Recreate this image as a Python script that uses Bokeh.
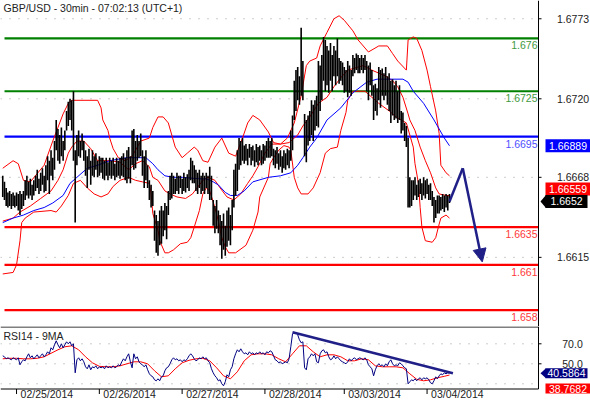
from bokeh.plotting import figure
from bokeh.layouts import column
from bokeh.models import Range1d, Label, Span, Arrow, NormalHead
from bokeh.embed import file_html
from bokeh.resources import INLINE

FONT = "Liberation Sans"
FS = "10.5px"

# ---------------- data ----------------
title_text = "GBP/USD - 30min - 07:02:13 (UTC+1)"
rsi_title = "RSI14 - 9MA"
price_ticks = [1.6615, 1.6668, 1.6720, 1.6773]
rsi_ticks = [50, 70]
rsi_grid = [30, 50, 70]
date_ticks = [0, 48, 96, 144, 190, 238]
date_labels = ["02/25/2014", "02/26/2014", "02/27/2014", "02/28/2014", "03/03/2014", "03/04/2014"]

levels = [1.676, 1.6725, 1.6695, 1.6635, 1.661, 1.658]
level_text = ["1.676", "1.6725", "1.6695", "1.6635", "1.661", "1.658"]
level_colors = ["#008000", "#008000", "#0000ff", "#ff0000", "#ff0000", "#ff0000"]
level_text_colors = ["#3f9a3f", "#3f9a3f", "#5050ff", "#ff3a3a", "#ff3a3a", "#ff3a3a"]

bar_index = list(range(-8, 252))
highs = [
    1.6669, 1.6665, 1.6661, 1.6658, 1.6659, 1.6657, 1.6658, 1.6656,
    1.6658, 1.6657, 1.6659, 1.6657, 1.6659, 1.6666, 1.6669, 1.6665, 1.6667, 1.6663,
    1.6666, 1.6669, 1.6673, 1.6667, 1.6671, 1.6674, 1.6669, 1.6676, 1.6682, 1.6679,
    1.6686, 1.6681, 1.6692, 1.6706, 1.6700, 1.6696, 1.6701, 1.6692, 1.6699, 1.6712,
    1.6718, 1.6720, 1.6719, 1.6725, 1.6686, 1.6696, 1.6699, 1.6692, 1.6697, 1.6692,
    1.6686, 1.6682, 1.6687, 1.6679, 1.6686, 1.6682, 1.6684, 1.6679, 1.6682, 1.6681,
    1.6681, 1.6679, 1.6681, 1.6678, 1.6681, 1.6679, 1.6681, 1.6677, 1.6681, 1.6679,
    1.6681, 1.6682, 1.6684, 1.6681, 1.6686, 1.6688, 1.6682, 1.6699, 1.6700, 1.6692,
    1.6696, 1.6692, 1.6697, 1.6686, 1.6682, 1.6686, 1.6676, 1.6666, 1.6663, 1.6659,
    1.6646, 1.6643, 1.6639, 1.6646, 1.6649, 1.6646, 1.6651, 1.6649, 1.6659, 1.6669,
    1.6671, 1.6669, 1.6667, 1.6671, 1.6669, 1.6669, 1.6667, 1.6671, 1.6668, 1.6670,
    1.6673, 1.6681, 1.6679, 1.6676, 1.6673, 1.6671, 1.6673, 1.6669, 1.6671, 1.6669,
    1.6671, 1.6669, 1.6675, 1.6669, 1.6653, 1.6649, 1.6653, 1.6646, 1.6643, 1.6639,
    1.6644, 1.6636, 1.6646, 1.6648, 1.6643, 1.6653, 1.6673, 1.6677, 1.6686, 1.6694,
    1.6692, 1.6694, 1.6689, 1.6690, 1.6687, 1.6690, 1.6688, 1.6689, 1.6686, 1.6690,
    1.6688, 1.6689, 1.6686, 1.6690, 1.6689, 1.6692, 1.6694, 1.6692, 1.6694, 1.6687,
    1.6686, 1.6688, 1.6684, 1.6686, 1.6682, 1.6686, 1.6684, 1.6687, 1.6686, 1.6699,
    1.6709, 1.6732, 1.6739, 1.6741, 1.6735, 1.6767, 1.6745, 1.6710, 1.6706, 1.6709,
    1.6712, 1.6719, 1.6716, 1.6719, 1.6722, 1.6745, 1.6742, 1.6749, 1.6761, 1.6759,
    1.6755, 1.6752, 1.6757, 1.6749, 1.6755, 1.6752, 1.6760, 1.6747, 1.6745, 1.6744,
    1.6741, 1.6739, 1.6745, 1.6742, 1.6739, 1.6749, 1.6747, 1.6750, 1.6749, 1.6747,
    1.6749, 1.6747, 1.6749, 1.6745, 1.6742, 1.6744, 1.6739, 1.6729, 1.6730, 1.6727,
    1.6741, 1.6739, 1.6740, 1.6737, 1.6741, 1.6735, 1.6737, 1.6732, 1.6733, 1.6729,
    1.6732, 1.6725, 1.6729, 1.6712, 1.6711, 1.6704, 1.6702, 1.6694, 1.6668, 1.6666,
    1.6666, 1.6668, 1.6663, 1.6666, 1.6667, 1.6664, 1.6668, 1.6666, 1.6667, 1.6663,
    1.6664, 1.6659, 1.6655, 1.6653, 1.6656, 1.6656, 1.6655, 1.6657, 1.6656, 1.6657,
    1.6656, 1.6657,
]
lows = [
    1.6655, 1.6653, 1.6649, 1.6648, 1.6649, 1.6647, 1.6649, 1.6648,
    1.6649, 1.6646, 1.6643, 1.6647, 1.6649, 1.6653, 1.6656, 1.6654, 1.6656, 1.6653,
    1.6656, 1.6659, 1.6661, 1.6657, 1.6659, 1.6663, 1.6658, 1.6659, 1.6666, 1.6657,
    1.6669, 1.6666, 1.6673, 1.6686, 1.6679, 1.6677, 1.6682, 1.6679, 1.6686, 1.6699,
    1.6702, 1.6706, 1.6699, 1.6679, 1.6638, 1.6676, 1.6682, 1.6681, 1.6686, 1.6679,
    1.6669, 1.6661, 1.6673, 1.6663, 1.6669, 1.6668, 1.6673, 1.6668, 1.6669, 1.6671,
    1.6667, 1.6666, 1.6669, 1.6666, 1.6669, 1.6667, 1.6669, 1.6666, 1.6668, 1.6669,
    1.6667, 1.6669, 1.6668, 1.6666, 1.6664, 1.6667, 1.6664, 1.6676, 1.6673, 1.6674,
    1.6679, 1.6681, 1.6682, 1.6669, 1.6661, 1.6666, 1.6661, 1.6653, 1.6648, 1.6649,
    1.6626, 1.6618, 1.6616, 1.6623, 1.6624, 1.6629, 1.6633, 1.6627, 1.6643, 1.6653,
    1.6654, 1.6657, 1.6657, 1.6659, 1.6657, 1.6661, 1.6657, 1.6659, 1.6658, 1.6661,
    1.6659, 1.6666, 1.6664, 1.6664, 1.6659, 1.6657, 1.6661, 1.6657, 1.6659, 1.6657,
    1.6661, 1.6657, 1.6653, 1.6653, 1.6636, 1.6631, 1.6634, 1.6631, 1.6623, 1.6614,
    1.6620, 1.6616, 1.6622, 1.6626, 1.6623, 1.6633, 1.6648, 1.6656, 1.6659, 1.6673,
    1.6676, 1.6679, 1.6677, 1.6679, 1.6676, 1.6681, 1.6676, 1.6679, 1.6675, 1.6678,
    1.6676, 1.6679, 1.6676, 1.6677, 1.6679, 1.6681, 1.6681, 1.6681, 1.6682, 1.6676,
    1.6674, 1.6677, 1.6673, 1.6675, 1.6671, 1.6674, 1.6673, 1.6676, 1.6674, 1.6679,
    1.6686, 1.6706, 1.6712, 1.6719, 1.6716, 1.6722, 1.6719, 1.6682, 1.6678, 1.6689,
    1.6692, 1.6696, 1.6692, 1.6699, 1.6702, 1.6701, 1.6712, 1.6719, 1.6732, 1.6725,
    1.6729, 1.6724, 1.6732, 1.6725, 1.6735, 1.6729, 1.6735, 1.6730, 1.6732, 1.6729,
    1.6724, 1.6725, 1.6721, 1.6724, 1.6722, 1.6735, 1.6737, 1.6739, 1.6737, 1.6737,
    1.6739, 1.6737, 1.6739, 1.6725, 1.6719, 1.6729, 1.6722, 1.6706, 1.6712, 1.6709,
    1.6719, 1.6714, 1.6722, 1.6719, 1.6722, 1.6716, 1.6712, 1.6704, 1.6709, 1.6706,
    1.6707, 1.6704, 1.6706, 1.6697, 1.6699, 1.6692, 1.6688, 1.6648, 1.6648, 1.6649,
    1.6653, 1.6656, 1.6653, 1.6655, 1.6657, 1.6653, 1.6656, 1.6654, 1.6657, 1.6653,
    1.6653, 1.6649, 1.6638, 1.6641, 1.6644, 1.6644, 1.6646, 1.6647, 1.6645, 1.6648,
    1.6646, 1.6651,
]

upper_idx = [-8, -2, 1, 4, 8, 16, 21, 24, 27, 30, 32, 47, 49, 50, 53, 54, 56, 59, 63, 67,
             72, 77, 79, 82, 85, 88, 92, 96, 99, 103, 105, 108, 111, 115, 119, 123, 127, 131,
             134, 137, 141, 146, 149, 153, 157, 161, 165, 168, 170, 174, 176, 180, 184, 187,
             190, 195, 198, 204, 210, 215, 218, 221, 226, 227, 230, 232, 235, 238, 240, 243,
             245, 246, 249, 251]
upper_val = [1.6674, 1.6679, 1.6677, 1.6666, 1.6665, 1.6676, 1.6692, 1.6701, 1.6710, 1.6717,
             1.6719, 1.6719, 1.6714, 1.6706, 1.6699, 1.6694, 1.6687, 1.6681, 1.6679, 1.6682,
             1.6692, 1.6694, 1.6701, 1.6708, 1.6708, 1.6704, 1.6688, 1.6681, 1.6684, 1.6688,
             1.6686, 1.6679, 1.6678, 1.6688, 1.6694, 1.6684, 1.6682, 1.6694, 1.6704, 1.6709,
             1.6706, 1.6698, 1.6691, 1.6690, 1.6694, 1.6704, 1.6722, 1.6742, 1.6745, 1.6747,
             1.6755, 1.6764, 1.6773, 1.6775, 1.6772, 1.6765, 1.6759, 1.6751, 1.6755, 1.6755,
             1.6750, 1.6745, 1.6739, 1.6759, 1.6761, 1.6760, 1.6752, 1.6739, 1.6728, 1.6712,
             1.6697, 1.6676, 1.6671, 1.6669]

mid_idx = [-8, -2, 2, 8, 14, 20, 24, 27, 30, 32, 35, 39, 43, 47, 54, 60, 65, 69, 73, 77,
           79, 82, 86, 89, 93, 98, 102, 106, 108, 111, 115, 118, 122, 126, 130, 134, 137,
           140, 144, 148, 153, 158, 161, 163, 166, 170, 175, 180, 184, 188, 192, 195, 201,
           206, 210, 214, 218, 221, 224, 227, 228, 231, 234, 237, 240, 243, 245, 249, 251]
mid_val = [1.6639, 1.6641, 1.6645, 1.6649, 1.6654, 1.6659, 1.6666, 1.6673, 1.6684, 1.6688,
           1.6692, 1.6692, 1.6687, 1.6679, 1.6679, 1.6678, 1.6673, 1.6677, 1.6679, 1.6675,
           1.6668, 1.6666, 1.6659, 1.6657, 1.6655, 1.6654, 1.6657, 1.6663, 1.6666, 1.6668,
           1.6666, 1.6661, 1.6655, 1.6653, 1.6657, 1.6664, 1.6669, 1.6675, 1.6684, 1.6690,
           1.6690, 1.6691, 1.6694, 1.6696, 1.6702, 1.6708, 1.6717, 1.6721, 1.6728, 1.6734,
           1.6739, 1.6740, 1.6742, 1.6739, 1.6737, 1.6735, 1.6732, 1.6728, 1.6721, 1.6710,
           1.6706, 1.6699, 1.6688, 1.6679, 1.6671, 1.6661, 1.6657, 1.6656, 1.66559]

lower_idx = [-8, -2, 0, 2, 3, 5, 10, 20, 23, 26, 30, 33, 37, 41, 45, 49, 53, 56, 60, 65,
             69, 73, 77, 78, 79, 82, 83, 86, 88, 91, 95, 99, 101, 103, 106, 108, 110, 112,
             115, 117, 119, 121, 123, 127, 133, 137, 140, 141, 146, 147, 149, 152, 155, 158,
             159, 161, 163, 165, 169, 172, 176, 179, 182, 186, 188, 191, 192, 195, 202, 206,
             210, 216, 220, 223, 226, 230, 231, 233, 234, 235, 237, 241, 243, 245, 246, 249, 251]
lower_val = [1.6604, 1.6605, 1.6610, 1.6626, 1.6638, 1.6641, 1.6645, 1.6646, 1.6645, 1.6649,
             1.6656, 1.6664, 1.6666, 1.6661, 1.6657, 1.6655, 1.6657, 1.6662, 1.6666, 1.6668,
             1.6666, 1.6665, 1.6664, 1.6657, 1.6644, 1.6633, 1.6626, 1.6618, 1.6618, 1.6620,
             1.6624, 1.6625, 1.6628, 1.6635, 1.6646, 1.6657, 1.6661, 1.6659, 1.6648, 1.6639,
             1.6628, 1.6622, 1.6618, 1.6618, 1.6623, 1.6633, 1.6645, 1.6655, 1.6668, 1.6677,
             1.6681, 1.6686, 1.6689, 1.6688, 1.6686, 1.6668, 1.6661, 1.6657, 1.6657, 1.6661,
             1.6671, 1.6684, 1.6687, 1.6688, 1.6699, 1.6711, 1.6719, 1.6725, 1.6725, 1.6721,
             1.6717, 1.6712, 1.6708, 1.6706, 1.6704, 1.6688, 1.6677, 1.6664, 1.6648, 1.6635,
             1.6626, 1.6625, 1.6628, 1.6637, 1.6641, 1.6643, 1.6641]

slow_ma_idx = [-8, -2, 4, 10, 16, 21, 27, 31, 35, 41, 47, 54, 64, 69, 75, 79, 82, 86, 91, 96,
               106, 110, 114, 117, 121, 124, 128, 132, 137, 146, 153, 159, 163, 166, 170, 174,
               180, 188, 195, 203, 209, 224, 227, 230, 236, 242, 248, 251]
slow_ma_val = [1.6638, 1.6641, 1.6643, 1.6646, 1.6648, 1.6651, 1.6656, 1.6664, 1.6668, 1.6674,
               1.6676, 1.6679, 1.6681, 1.6681, 1.6681, 1.6677, 1.6673, 1.6669, 1.6668, 1.6668,
               1.6667, 1.6667, 1.6665, 1.6663, 1.6658, 1.6656, 1.6656, 1.6659, 1.6665, 1.6668,
               1.6669, 1.6671, 1.6676, 1.6681, 1.6688, 1.6694, 1.6706, 1.6714, 1.6724, 1.6731,
               1.6733, 1.6733, 1.6731, 1.6725, 1.6717, 1.6706, 1.6694, 1.66889]

rsi = [
    58, 57, 55, 56, 55, 54, 56, 55,
    54, 56, 49, 52, 54, 53, 57, 60, 56, 58,
    55, 57, 59, 56, 58, 60, 57, 59, 62, 60,
    66, 64, 69, 73, 69, 66, 70, 66, 69, 72,
    70, 72, 68, 70, 41, 54, 56, 53, 55, 52,
    47, 45, 49, 44, 47, 46, 48, 45, 47, 46,
    47, 45, 48, 46, 47, 46, 48, 46, 47, 49,
    48, 52, 55, 53, 57, 60, 52, 46, 60, 55,
    57, 52, 50, 49, 47, 49, 44, 40, 38, 37,
    34, 33, 35, 33, 37, 38, 43, 46, 47, 50,
    54, 56, 54, 55, 53, 54, 52, 54, 53, 55,
    58, 60, 58, 55, 53, 54, 56, 55, 57, 55,
    56, 53, 51, 45, 41, 38, 36, 33, 34, 30,
    28, 32, 39, 37, 44, 47, 55, 60, 64, 62,
    65, 62, 60, 61, 59, 62, 60, 61, 59, 61,
    60, 62, 60, 61, 59, 62, 61, 63, 62, 58,
    54, 53, 51, 52, 50, 51, 52, 51, 55, 67,
    80, 81, 81, 79, 74, 71, 72, 46, 44, 55,
    57, 60, 58, 60, 52, 51, 60, 63, 64, 61,
    62, 57, 54, 55, 58, 55, 57, 55, 53, 52,
    51, 50, 52, 55, 53, 55, 56, 54, 55, 56,
    55, 54, 56, 54, 49, 47, 45, 38, 44, 48,
    50, 48, 49, 47, 50, 48, 52, 54, 50, 48,
    49, 48, 51, 50, 48, 46, 45, 30, 32, 34,
    33, 35, 33, 35, 36, 34, 36, 35, 36, 34,
    31, 30, 33, 37, 35, 38, 40, 39, 41, 40,
    41, 40.5864,
]
rsi_ma_idx = list(range(-8, 252, 4)) + [251]
rsi_ma = [55, 55.5, 55.5, 55, 55, 55.5, 57, 60.5, 64, 67, 68, 64, 57, 51, 47.5, 47, 47, 48,
          50, 52, 52, 50, 43, 37, 38, 45, 51, 53.5, 55, 55.5, 53, 46, 38, 35, 42, 53, 59, 60,
          60, 59, 55, 52, 60, 68, 68, 62, 57, 59, 59, 57, 53, 53, 55, 54, 48, 47, 47, 47, 46,
          40, 34.5, 33, 34, 36, 37.5, 38.7682]

forecast_x = [251, 258.7, 270]
forecast_y = [1.6652, 1.6674, 1.6612]
rsi_trend_x = [160, 253]
rsi_trend_y = [81.5, 40.6]

# value tags: (value, text, colour, vertical shift in px (+ = down), pointed)
price_tags = [(1.66889, "1.66889", "#0000ff", 0, False),
              (1.66559, "1.66559", "#ff0000", -6.5, False),
              (1.6652, "1.6652", "#000000", 0, True)]
rsi_tags = [(40.5864, "40.5864", "#000080", 0, True),
            (38.7682, "38.7682", "#ff0000", 13.5, False)]

# ---------------- layout constants ----------------
W = 590
PLOT_PX = 538            # right edge of the plotting area
MAIN_H = 326
RSI_H = 74               # 62 px panel + 12 px for the date labels
X_START, X_END = -9.3, 302.6
BPP = (X_END - X_START) / PLOT_PX
X_FULL = X_START + W * BPP
PPP = 1 / 15100.0
P_HI = 1.67851
P_LO = P_HI - MAIN_H * PPP
RPP = 1.0
R_HI = 87.3
R_LO = R_HI - RSI_H * RPP
R_TOP_LINE = R_HI - 0.5 * RPP
R_BOT_LINE = R_HI - 62.5 * RPP
NAVY = "#1f1f87"
TXT = "#222222"


def xd(px):
    return X_START + px * BPP


def make_fig(h, yr):
    f = figure(width=W, height=h, x_range=Range1d(X_START, X_FULL), y_range=yr,
               output_backend="svg", toolbar_location=None,
               x_axis_location=None, y_axis_location=None, min_border=0)
    f.outline_line_color = None
    f.grid.visible = False
    f.background_fill_color = "white"
    f.border_fill_color = "white"
    return f


def text(fig, x, y, s, align="left", base="middle", color=TXT, xo=0, yo=0, size=FS):
    fig.add_layout(Label(x=x, y=y, text=s, x_offset=xo, y_offset=yo, text_align=align,
                         text_baseline=base, text_color=color, text_font=FONT,
                         text_font_size=size))


def draw_tags(fig, tags, unit, half):
    for val, s, col, shift, pointed in tags:
        yc = val - shift * unit
        right = 587 if pointed else 590
        fig.quad(left=[xd(545)], right=[xd(right)], top=[yc + half * unit],
                 bottom=[yc - half * unit], fill_color=col, line_color=None)
        if pointed:
            fig.patch([xd(540), xd(545.5), xd(545.5)],
                      [yc, yc + half * unit, yc - half * unit],
                      fill_color=col, line_color=None)
        text(fig, xd((545 + right) / 2.0), yc, s, align="center", color="white")


# ---------------- main price panel ----------------
p = make_fig(MAIN_H, Range1d(P_LO, P_HI))

p.segment(x0=[X_START] * len(price_ticks), x1=[X_END] * len(price_ticks),
          y0=price_ticks, y1=price_ticks, line_color="#9a9a9a", line_dash="1 8")

for lv, col in zip(levels, level_colors):
    p.line([xd(4), X_END], [lv, lv], line_color=col, line_width=2.2)
for lv, txt, col in zip(levels, level_text, level_text_colors):
    text(p, X_END, lv, txt, align="right", base="top", color=col, xo=-1, yo=-3)

p.line(upper_idx, upper_val, line_color="#ff0000", line_width=1)
p.line(lower_idx, lower_val, line_color="#ff0000", line_width=1)
p.line(mid_idx, mid_val, line_color="#ff0000", line_width=1)
p.line(slow_ma_idx, slow_ma_val, line_color="#0000ff", line_width=1)
p.segment(x0=bar_index, y0=lows, x1=bar_index, y1=highs, line_color="black", line_width=1.6)

p.line(forecast_x[:2], forecast_y[:2], line_color=NAVY, line_width=2.5)
p.add_layout(Arrow(end=NormalHead(size=13, fill_color=NAVY, line_color=NAVY),
                   x_start=forecast_x[1], y_start=forecast_y[1],
                   x_end=forecast_x[2], y_end=forecast_y[2],
                   line_color=NAVY, line_width=2.5))

# right price scale
p.add_layout(Span(location=X_END, dimension="height", line_color="black", line_width=1))
p.segment(x0=[X_END] * len(price_ticks), x1=[xd(541)] * len(price_ticks),
          y0=price_ticks, y1=price_ticks, line_color="black")
for t in price_ticks:
    text(p, xd(572.5), t, "%.4f" % t, align="center")

text(p, X_START, P_HI, title_text, base="top", xo=3, yo=-1)
draw_tags(p, price_tags, PPP, 6.5)

# ---------------- RSI panel ----------------
r = make_fig(RSI_H, Range1d(R_LO, R_HI))

r.segment(x0=[X_START] * len(rsi_grid), x1=[X_END] * len(rsi_grid),
          y0=rsi_grid, y1=rsi_grid, line_color="#9a9a9a", line_dash="1 8")
r.segment(x0=[X_START, X_START, X_END], x1=[X_END, X_END, X_END],
          y0=[R_TOP_LINE, R_BOT_LINE, R_BOT_LINE], y1=[R_TOP_LINE, R_BOT_LINE, R_HI],
          line_color="black", line_width=1)
r.segment(x0=[X_END] * len(rsi_ticks), x1=[xd(541)] * len(rsi_ticks),
          y0=rsi_ticks, y1=rsi_ticks, line_color="black")
for t in rsi_ticks:
    text(r, xd(572), t, "%.1f" % t, align="center")

# date axis
r.segment(x0=date_ticks, x1=date_ticks, y0=[R_BOT_LINE] * len(date_ticks),
          y1=[R_BOT_LINE - 5 * RPP] * len(date_ticks), line_color="black")
for t, lab in zip(date_ticks, date_labels):
    text(r, t, R_LO, lab, base="bottom", xo=4, yo=0.5)

r.line(rsi_ma_idx, rsi_ma, line_color="#ff0000", line_width=1)
r.line(bar_index, rsi, line_color="#000080", line_width=1)
r.line(rsi_trend_x, rsi_trend_y, line_color=NAVY, line_width=2.5)

text(r, X_START, R_HI, rsi_title, base="top", xo=3, yo=-3)
draw_tags(r, rsi_tags, RPP, 5)

layout = column(p, r, spacing=0)
open("out.html", "w").write(file_html(layout, INLINE))
